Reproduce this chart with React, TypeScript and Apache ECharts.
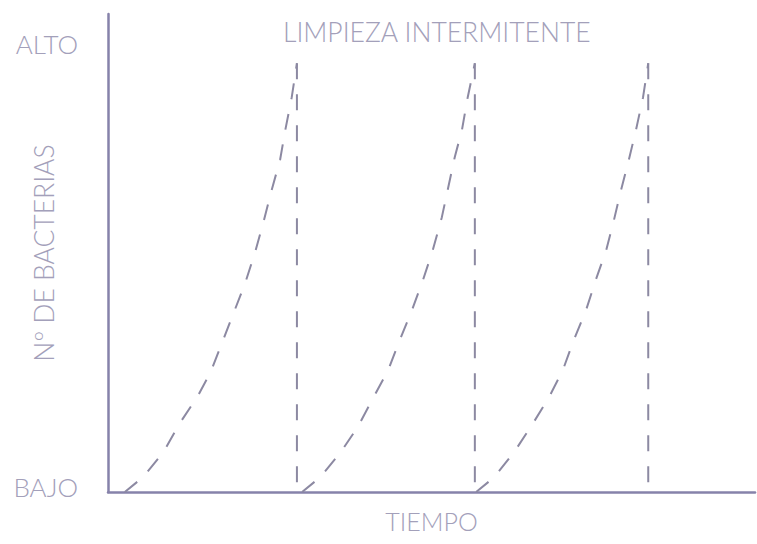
import React, { useEffect, useRef } from "react";
import * as echarts from "echarts";

// Cycle 1 (time, bacteria level)
const cycle1Time = [2.6, 5.4, 8.5, 11.1, 13.8, 15.8, 17.8, 19.6, 21.2, 22.7, 24.0, 25.3, 26.6, 27.4, 28.4, 29.2];
const cycle1Level = [0, 3.1, 8.2, 14.4, 19.9, 24.9, 31.8, 38.1, 43.7, 50.0, 56.3, 63.2, 69.5, 75.7, 82.6, 89.7];
// Cycle 2
const cycle2Time = [30.0, 32.8, 35.9, 38.6, 41.0, 43.3, 45.1, 47.0, 48.7, 50.2, 51.6, 52.6, 53.6, 54.7, 55.6, 56.7];
const cycle2Level = [0, 3.1, 8.2, 13.6, 19.7, 25.5, 31.8, 38.1, 44.4, 50.6, 57.5, 63.8, 70.1, 75.7, 82.6, 89.7];
// Cycle 3
const cycle3Time = [56.9, 59.7, 62.8, 65.7, 68.2, 70.3, 72.0, 73.9, 75.4, 77.0, 78.2, 79.3, 80.5, 81.6, 82.7, 83.5];
const cycle3Level = [0, 3.1, 8.4, 14.4, 19.9, 25.5, 31.8, 38.1, 44.4, 50.6, 56.9, 63.2, 69.5, 75.7, 82.6, 89.7];

// Cleaning moments (vertical drops)
const cleaningTimes = [29.2, 56.7, 83.5];
const cleaningPeak = 89.7;

// Y tick labels
const yTickValues = [0, 92.6];
const yTickLabels = ["BAJO", "ALTO"];

const titleText = "LIMPIEZA INTERMITENTE";
const xName = "TIEMPO";
const yName = "Nº DE BACTERIAS";

const AXIS_COLOR = "#8682aa";
const DASH_COLOR = "#8c89a2";
const TEXT_COLOR = "#a3a0ba";
const FONT = "Lato, 'Open Sans', 'DejaVu Sans', sans-serif";

export default function App() {
  const ref = useRef<HTMLDivElement>(null);

  useEffect(() => {
    if (!ref.current) return;
    const chart = echarts.init(ref.current, undefined, { renderer: "svg" });

    const curves = [
      [cycle1Time, cycle1Level],
      [cycle2Time, cycle2Level],
      [cycle3Time, cycle3Level],
    ];

    const dashStyle = {
      color: DASH_COLOR,
      width: 2,
      type: [16, 15] as number[],
    };

    const series: any[] = [];
    curves.forEach(([t, v], i) => {
      series.push({
        type: "line",
        name: "curve" + i,
        data: t.map((x, k) => [x, v[k]]),
        showSymbol: false,
        symbol: "none",
        smooth: false,
        lineStyle: dashStyle,
        silent: true,
      });
    });
    cleaningTimes.forEach((x, i) => {
      series.push({
        type: "line",
        name: "drop" + i,
        data: [
          [x, cleaningPeak],
          [x, 0],
        ],
        showSymbol: false,
        symbol: "none",
        lineStyle: dashStyle,
        silent: true,
      });
    });

    const option: any = {
      animation: false,
      backgroundColor: "#ffffff",
      title: {
        text: titleText,
        left: 283,
        top: 18,
        padding: 0,
        textStyle: {
          color: TEXT_COLOR,
          fontFamily: FONT,
          fontWeight: 300,
          fontSize: 26.5,
        },
      },
      grid: {
        left: 108,
        right: 2,
        top: 14,
        bottom: 52,
        containLabel: false,
        outerBoundsMode: "none",
      },
      xAxis: {
        type: "value",
        min: 0,
        max: 100,
        name: xName,
        nameLocation: "middle",
        nameGap: 16,
        nameMoveOverlap: false,
        nameTextStyle: {
          color: TEXT_COLOR,
          fontFamily: FONT,
          fontWeight: 300,
          fontSize: 25,
          verticalAlign: "top",
        },
        axisLine: { show: true, lineStyle: { color: AXIS_COLOR, width: 2.5 } },
        axisTick: { show: false },
        axisLabel: { show: false },
        splitLine: { show: false },
      },
      yAxis: {
        type: "value",
        min: 0,
        max: 100,
        interval: yTickValues[1] - yTickValues[0],
        name: yName,
        nameLocation: "middle",
        nameGap: 51,
        nameRotate: 90,
        nameMoveOverlap: false,
        nameTextStyle: {
          color: TEXT_COLOR,
          fontFamily: FONT,
          fontWeight: 300,
          fontSize: 26.5,
        },
        axisLine: { show: true, lineStyle: { color: AXIS_COLOR, width: 2.5 } },
        axisTick: { show: false },
        axisLabel: {
          show: true,
          margin: 30,
          showMaxLabel: false,
          verticalAlign: "bottom",
          lineHeight: 10,
          color: TEXT_COLOR,
          fontFamily: FONT,
          fontWeight: 300,
          fontSize: 26,
          formatter: (val: number) => {
            const idx = yTickValues.findIndex((t) => Math.abs(t - val) < 1e-6);
            return idx >= 0 ? yTickLabels[idx] : "";
          },
        },
        splitLine: { show: false },
      },
      series,
    };

    chart.setOption(option);
    return () => chart.dispose();
  }, []);

  return (
    <div
      ref={ref}
      style={{ position: "absolute", left: 0, top: 0, width: 757, height: 544, background: "#fff" }}
    />
  );
}
